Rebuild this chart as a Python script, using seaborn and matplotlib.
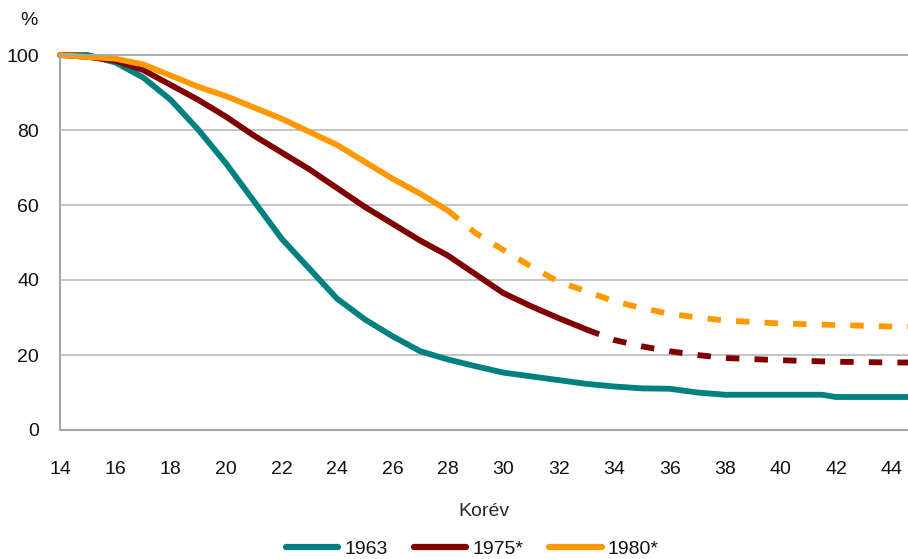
import matplotlib
matplotlib.use('Agg')
import matplotlib.pyplot as plt
import seaborn as sns
import pandas as pd
from matplotlib.lines import Line2D

# ages (Korév) and share remaining
age = [14, 15, 16, 17, 18, 19, 20, 21, 22, 23, 24, 25, 26, 27, 28, 29, 30,
       31, 32, 33, 34, 35, 36, 37, 38, 39, 40, 41, 41.5, 42, 43, 44, 44.6]
y1963 = [100, 100, 98, 94, 88, 80, 71, 61, 51, 43, 35, 29.5, 25, 21, 18.8, 17, 15.3,
         14.3, 13.3, 12.3, 11.6, 11.1, 11, 10, 9.4, 9.4, 9.4, 9.4, 9.4, 8.8, 8.8, 8.8, 8.8]
y1975 = [100, 99.5, 98.5, 96, 92, 88, 83.5, 78.5, 74, 69.5, 64.5, 59.5, 55, 50.5, 46.5, 41.5, 36.5,
         33, 29.8, 26.8, 24, 22.3, 21, 20, 19.2, 18.9, 18.6, 18.4, 18.3, 18.2, 18.1, 18, 18]
y1980 = [100, 99.5, 99, 97.5, 94.5, 91.5, 89, 86, 83, 79.5, 76, 71.5, 67, 63, 58.5, 52.5, 48,
         43.6, 39.5, 37, 34.3, 32.5, 31, 30, 29.2, 28.8, 28.4, 28.2, 28.1, 28, 27.8, 27.6, 27.6]

solid_end_1975 = 33
solid_end_1980 = 28

series = ['1963', '1975*', '1980*']
colors = ['#008080', '#800000', '#ff9900']

df = pd.DataFrame({'age': age, '1963': y1963, '1975*': y1975, '1980*': y1980})

sns.set_style('white')
plt.rcParams['font.family'] = ['Liberation Sans', 'DejaVu Sans']
plt.rcParams['text.color'] = '#111111'
plt.rcParams['xtick.labelcolor'] = '#111111'
plt.rcParams['ytick.labelcolor'] = '#111111'

fig = plt.figure(figsize=(9.08, 5.59), dpi=100)
ax = fig.add_axes([60 / 908, 129 / 559, 848 / 908, 375 / 559])

lw = 4.2
dash = (0, (2.3, 2.6))

# 1963: solid all the way
sns.lineplot(data=df, x='age', y='1963', ax=ax, color=colors[0], linewidth=lw,
             solid_capstyle='round', clip_on=False)

# 1975*: solid then dashed
d = df[df['age'] <= solid_end_1975]
sns.lineplot(data=d, x='age', y='1975*', ax=ax, color=colors[1], linewidth=lw,
             solid_capstyle='round', clip_on=False)
d = df[df['age'] >= solid_end_1975]
sns.lineplot(data=d, x='age', y='1975*', ax=ax, color=colors[1], linewidth=lw,
             linestyle=dash, dash_capstyle='butt', clip_on=False)

# 1980*: solid then dashed
d = df[df['age'] <= solid_end_1980]
sns.lineplot(data=d, x='age', y='1980*', ax=ax, color=colors[2], linewidth=lw,
             solid_capstyle='round', clip_on=False)
d = df[df['age'] >= solid_end_1980]
sns.lineplot(data=d, x='age', y='1980*', ax=ax, color=colors[2], linewidth=lw,
             linestyle=dash, dash_capstyle='butt', clip_on=False)

ax.set_xlim(14, 44.6)
ax.set_ylim(0, 100)
ax.set_yticks([0, 20, 40, 60, 80, 100])
ax.set_xticks(range(14, 45, 2))
ax.set_xticks(range(14, 45), minor=True)
for v in [20, 40, 60, 80]:
    ax.axhline(v, color='#bfbfbf', linewidth=1.3, zorder=0)

ax.spines['right'].set_visible(False)
ax.spines['top'].set_color('#a6a6a6')
ax.spines['top'].set_linewidth(1.3)
for s in ['left', 'bottom']:
    ax.spines[s].set_color('#a6a6a6')
    ax.spines[s].set_linewidth(1.5)

ax.tick_params(axis='x', which='both', direction='out', length=7, width=1.3,
               color='#a6a6a6', labelsize=14, pad=15)
ax.tick_params(axis='y', length=0, labelsize=14, pad=15)

ax.set_xlabel('Korév', fontsize=14, labelpad=18)
ax.set_ylabel('')
ax.text(-0.026, 1.093, '%', transform=ax.transAxes, fontsize=14, ha='right', va='center')

handles = [Line2D([0], [0], color=c, linewidth=4.5, solid_capstyle='round') for c in colors]
fig.legend(handles, series, loc='lower center', bbox_to_anchor=(0.52, -0.03), ncol=3,
           frameon=False, fontsize=14, handlelength=2.7, handletextpad=0.3, columnspacing=1.35)

fig.savefig('out.png', dpi=100)
